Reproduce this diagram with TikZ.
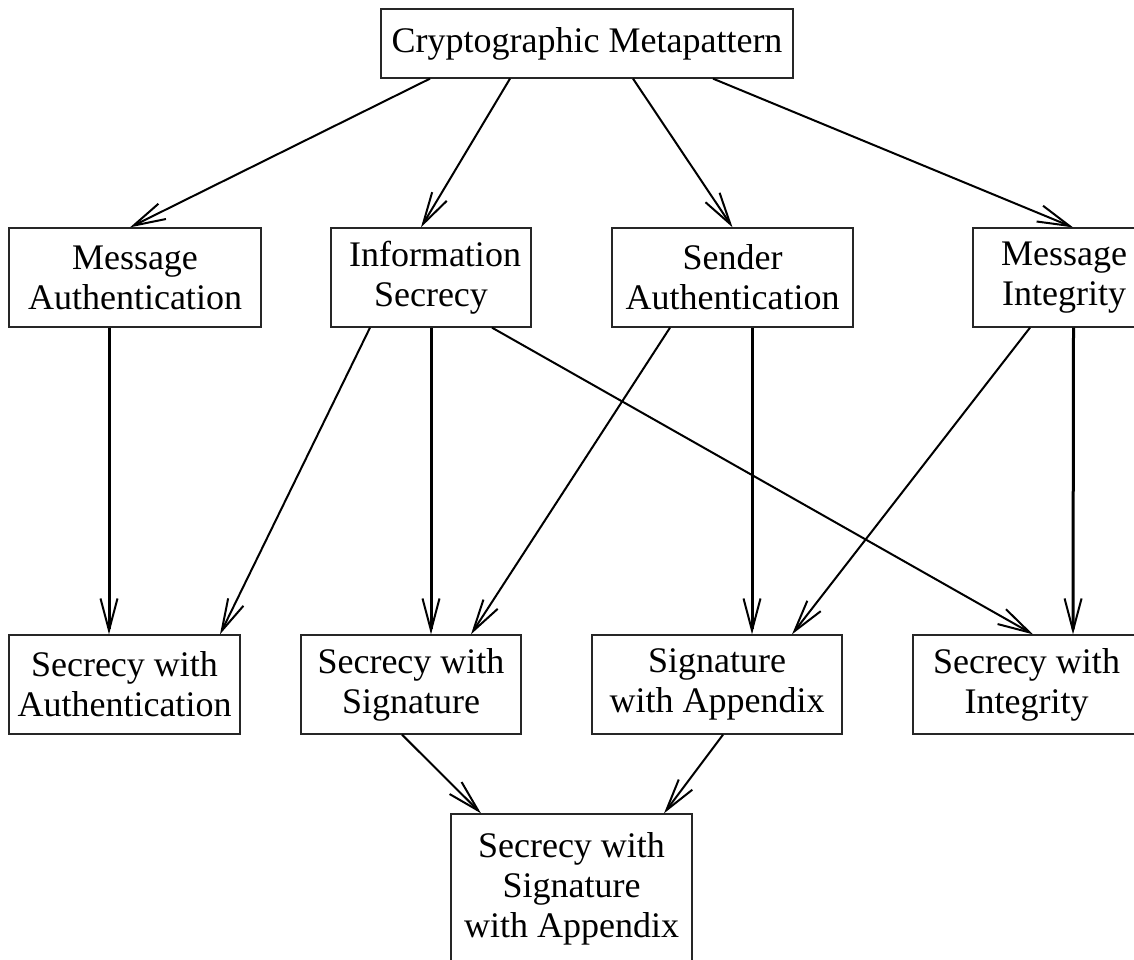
\documentclass[tikz,border=0pt]{standalone}
\usepackage{fontspec}
\setmainfont{Liberation Serif}
\usetikzlibrary{arrows.meta}
\begin{document}
\begin{tikzpicture}[x=1pt,y=-1pt,
  box/.style={draw=black!85, line width=1.3pt, rectangle, inner sep=0pt,
    align=center, font=\fontsize{36}{40}\selectfont},
  link/.style={line width=2pt, -{Straight Barb[length=32pt,width=17pt,line width=2pt]}},
  vlink/.style={line width=3pt, -{Straight Barb[length=32pt,width=17pt,line width=2pt]}}]
\useasboundingbox (0,0) rectangle (1134,960);
\clip (0,0) rectangle (1134,960);

% root
\node[box, minimum width=412pt, minimum height=69pt] (cm) at (587,43.5) {Cryptographic Metapattern};

% second row
\node[box, minimum width=252pt, minimum height=99pt] (ma) at (135,277.5) {Message\\Authentication};
\node[box, minimum width=200pt, minimum height=99pt] (is) at (431,277.5) {\hspace*{8pt}Information\\Secrecy};
\node[box, minimum width=241pt, minimum height=99pt] (sa) at (732.5,277.5) {Sender\\Authentication};
\node[box, minimum width=182pt, minimum height=99pt] (mi) at (1064,277.5) {Message\\Integrity};

% third row
\node[box, minimum width=231pt, minimum height=99pt] (swa) at (124.5,684.5) {Secrecy with\\Authentication};
\node[box, minimum width=220pt, minimum height=99pt] (sws) at (411,684.5) {Secrecy with\\Signature};
\node[box, minimum width=250pt, minimum height=99pt] (swp) at (717,684.5) {Signature\\with Appendix};
\node[box, minimum width=227pt, minimum height=99pt] (swi) at (1026.5,684.5) {Secrecy with\\Integrity};

% bottom
\node[box, minimum width=241pt, minimum height=150pt] (ssa) at (571.5,889) {Secrecy with\\Signature\\with Appendix};

% root to second row
\draw[link] ([xshift=-157pt]cm.south) -- ([xshift=-5pt]ma.north);
\draw[link] ([xshift=-77pt]cm.south) -- ([xshift=-10pt]is.north);
\draw[link] ([xshift=46pt]cm.south) -- (sa.north);
\draw[link] ([xshift=126pt]cm.south) -- ([xshift=9pt]mi.north);

% second row to third row
\draw[vlink] ([xshift=-26pt]ma.south) -- ([xshift=-15.5pt]swa.north);
\draw[link] ([xshift=-61pt]is.south) -- ([xshift=95.5pt]swa.north);
\draw[vlink] (is.south) -- ([xshift=20pt]sws.north);
\draw[link] ([xshift=61pt]is.south) -- ([xshift=6.5pt]swi.north);
\draw[link] ([xshift=-62.5pt]sa.south) -- ([xshift=60pt]sws.north);
\draw[vlink] ([xshift=19.5pt]sa.south) -- ([xshift=35pt]swp.north);
\draw[link] ([xshift=-34pt]mi.south) -- ([xshift=75pt]swp.north);
\draw[vlink] ([xshift=9.5pt]mi.south) -- ([xshift=46.5pt]swi.north);

% third row to bottom
\draw[link] ([xshift=-9pt]sws.south) -- ([xshift=-90.5pt]ssa.north);
\draw[link] ([xshift=6pt]swp.south) -- ([xshift=92.5pt]ssa.north);
\end{tikzpicture}
\end{document}
